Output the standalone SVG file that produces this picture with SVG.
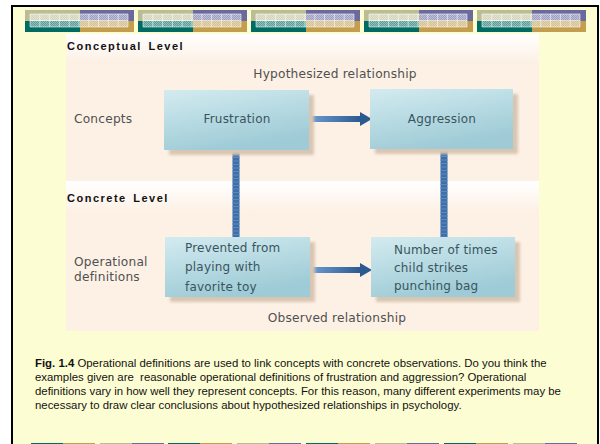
<svg xmlns="http://www.w3.org/2000/svg" width="600" height="444" viewBox="0 0 600 444">
<defs>
  <style>
    .lvl{font-family:"Liberation Sans",Arial,sans-serif;font-weight:bold;font-size:11px;letter-spacing:1.5px;word-spacing:2px;fill:#111}
    .lbl{font-family:"DejaVu Sans","Liberation Sans",sans-serif;font-size:12.2px;fill:#505050;letter-spacing:0.2px}
    .box{font-family:"DejaVu Sans","Liberation Sans",sans-serif;font-size:12px;fill:#3a545e;letter-spacing:0.2px}
    .cap{font-family:"Liberation Sans",Arial,sans-serif;font-size:11.4px;fill:#111}
    .bx{fill:url(#boxg)}
    .sh{fill:#d9c6b2;filter:url(#blur)}
    .vbar{stroke:#3e6fa8;stroke-width:7}
    .vstripe{stroke:#5d88bd;stroke-width:7;stroke-dasharray:1 2.5}
    .shaft{fill:url(#arrg)}
    .head{fill:#2b5a90}
  </style>
  <linearGradient id="boxg" x1="0" y1="0" x2="0.4" y2="1">
    <stop offset="0" stop-color="#d3ebf0"/>
    <stop offset="1" stop-color="#9ecbd6"/>
  </linearGradient>
  <linearGradient id="arrg" x1="0" y1="0" x2="1" y2="0">
    <stop offset="0" stop-color="#6c9cd2"/>
    <stop offset="1" stop-color="#2b5a90"/>
  </linearGradient>
  <linearGradient id="stripg" x1="0" y1="0" x2="0" y2="1">
    <stop offset="0" stop-color="#ffffff"/>
    <stop offset="1" stop-color="#fdf1e6"/>
  </linearGradient>
  <filter id="blur" x="-10%" y="-10%" width="120%" height="120%">
    <feGaussianBlur stdDeviation="1.5"/>
  </filter>
  <pattern id="chk" width="2" height="2" patternUnits="userSpaceOnUse">
    <rect width="1" height="1" fill="#ffffff" fill-opacity="0.35"/>
    <rect x="1" y="1" width="1" height="1" fill="#ffffff" fill-opacity="0.35"/>
  </pattern>
  <g id="topbar">
    <rect x="0" y="0" width="55" height="11" fill="#bdbd95"/>
    <rect x="55" y="0" width="54" height="11" fill="#6a6a9e"/>
    <rect x="0" y="11" width="55" height="11" fill="#006b63"/>
    <rect x="55" y="11" width="54" height="11" fill="#c29e4e"/>
    <rect x="5" y="4" width="98" height="13" fill="#ffffff" fill-opacity="0.35"/>
    <rect x="5" y="4" width="98" height="13" fill="url(#chk)"/>
    <path d="M5 4H103M5 10.5H103M5 17H103M5 4V17M14.8 4V17M24.6 4V17M34.4 4V17M44.2 4V17M54 4V17M63.8 4V17M73.6 4V17M83.4 4V17M93.2 4V17M103 4V17" stroke="#ffffff" stroke-opacity="0.7" stroke-width="0.8" fill="none"/>
  </g>
</defs>

<!-- slide background and frame -->
<rect x="0" y="0" width="600" height="444" fill="#ffffff"/>
<rect x="12" y="6" width="586" height="460" fill="#fdfdd3" stroke="#000" stroke-width="2"/>

<!-- top decorative bars -->
<g id="top-bars">
  <use href="#topbar" x="25" y="10"/>
  <use href="#topbar" x="138" y="10"/>
  <use href="#topbar" x="251" y="10"/>
  <use href="#topbar" x="364" y="10"/>
  <use href="#topbar" x="477" y="10"/>
</g>

<!-- bottom decorative bars (mostly off-screen) -->
<g id="bottom-bars">
  <rect x="31" y="443" width="32" height="5" fill="#006b63"/><rect x="63" y="443" width="32" height="5" fill="#c29e4e"/>
  <rect x="100" y="443" width="32" height="5" fill="#bdbd95"/><rect x="132" y="443" width="32" height="5" fill="#6a6a9e"/>
  <rect x="168" y="443" width="32" height="5" fill="#006b63"/><rect x="200" y="443" width="32" height="5" fill="#c29e4e"/>
  <rect x="237" y="443" width="32" height="5" fill="#bdbd95"/><rect x="269" y="443" width="32" height="5" fill="#6a6a9e"/>
  <rect x="306" y="443" width="32" height="5" fill="#006b63"/><rect x="338" y="443" width="32" height="5" fill="#c29e4e"/>
  <rect x="375" y="443" width="32" height="5" fill="#bdbd95"/><rect x="407" y="443" width="32" height="5" fill="#6a6a9e"/>
  <rect x="444" y="443" width="32" height="5" fill="#006b63"/><rect x="476" y="443" width="32" height="5" fill="#c29e4e"/>
  <rect x="513" y="443" width="32" height="5" fill="#bdbd95"/><rect x="545" y="443" width="32" height="5" fill="#6a6a9e"/>
</g>

<!-- figure background -->
<g id="figure-bg">
  <rect x="66" y="34" width="473" height="297" fill="#fdf1e6"/>
  <rect x="66" y="34" width="473" height="27" fill="url(#stripg)"/>
  <rect x="66" y="181" width="473" height="30" fill="url(#stripg)"/>
</g>

<text class="lvl" x="67" y="49.5">Conceptual Level</text>
<text class="lvl" x="67" y="201.5">Concrete Level</text>

<text class="lbl" x="335" y="78" text-anchor="middle">Hypothesized relationship</text>
<text class="lbl" x="74" y="123">Concepts</text>
<text class="lbl" x="74" y="266">Operational</text>
<text class="lbl" x="74" y="281">definitions</text>
<text class="lbl" x="337" y="322" text-anchor="middle">Observed relationship</text>

<!-- connectors -->
<g id="connectors">
  <line class="vbar" x1="236" y1="150" x2="236" y2="238"/>
  <line class="vstripe" x1="236" y1="150" x2="236" y2="238"/>
  <line class="vbar" x1="444" y1="149" x2="444" y2="238"/>
  <line class="vstripe" x1="444" y1="149" x2="444" y2="238"/>
  <rect class="shaft" x="309" y="116" width="52" height="6"/>
  <path class="head" d="M360 112L372 119L360 126Z"/>
  <rect class="shaft" x="310" y="267" width="51" height="6"/>
  <path class="head" d="M360 263L372 270L360 277Z"/>
</g>

<!-- nodes -->
<g id="node-frustration">
  <rect class="sh" x="169" y="95" width="145" height="60"/>
  <rect class="bx" x="164" y="90" width="145" height="60"/>
  <text class="box" x="237" y="123" text-anchor="middle">Frustration</text>
</g>
<g id="node-aggression">
  <rect class="sh" x="375" y="94" width="143" height="60"/>
  <rect class="bx" x="370" y="89" width="143" height="60"/>
  <text class="box" x="442" y="123" text-anchor="middle">Aggression</text>
</g>
<g id="node-prevented">
  <rect class="sh" x="170" y="242" width="145" height="60"/>
  <rect class="bx" x="165" y="237" width="145" height="60"/>
  <text class="box" x="185" y="252">Prevented from</text>
  <text class="box" x="185" y="271">playing with</text>
  <text class="box" x="185" y="290.5">favorite toy</text>
</g>
<g id="node-number">
  <rect class="sh" x="376" y="242" width="144" height="60"/>
  <rect class="bx" x="371" y="237" width="144" height="60"/>
  <text class="box" x="394" y="254">Number of times</text>
  <text class="box" x="394" y="272">child strikes</text>
  <text class="box" x="394" y="290">punching bag</text>
</g>

<!-- caption -->
<g id="caption">
  <text class="cap" x="35" y="367"><tspan font-weight="bold">Fig. 1.4</tspan> Operational definitions are used to link concepts with concrete observations. Do you think the</text>
  <text class="cap" x="35" y="381" xml:space="preserve">examples given are  reasonable operational definitions of frustration and aggression? Operational</text>
  <text class="cap" x="35" y="395">definitions vary in how well they represent concepts. For this reason, many different experiments may be</text>
  <text class="cap" x="35" y="409">necessary to draw clear conclusions about hypothesized relationships in psychology.</text>
</g>
</svg>
